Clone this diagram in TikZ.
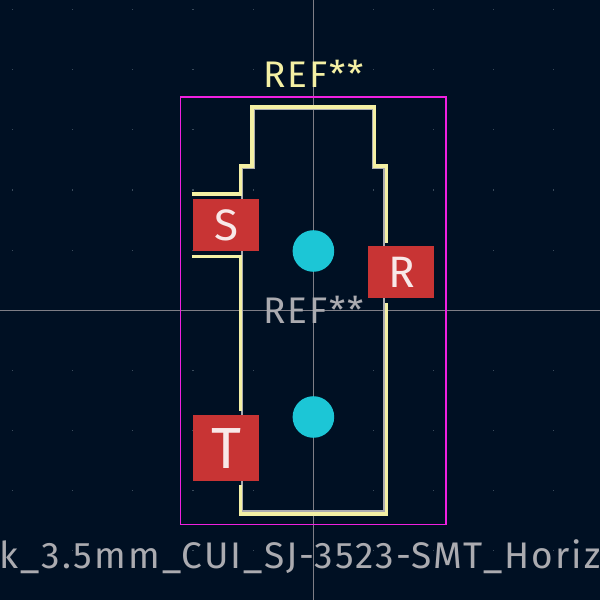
\documentclass[tikz,border=0pt]{standalone}
\usepackage{fontspec}
\setmainfont[LetterSpace=5]{Fira Sans}
\newfontfamily\widefont[LetterSpace=5.6]{Fira Sans}
\definecolor{bgc}{HTML}{001023}
\definecolor{crossc}{HTML}{7E7E86}
\definecolor{griddot}{HTML}{3A4A5A}
\definecolor{courtc}{HTML}{F020E0}
\definecolor{silkc}{HTML}{F4F0A4}
\definecolor{fabc}{HTML}{ABABB0}
\definecolor{padc}{HTML}{C83434}
\definecolor{holec}{HTML}{1CC6D6}
\definecolor{padtext}{HTML}{F8E8E8}
\tikzset{
  x=1pt,y=-1pt,
  silk/.style={draw=silkc,line width=3.3pt,line join=miter},
  fab/.style={draw=fabc,line width=2.4pt},
  court/.style={draw=courtc,line width=1.5pt},
  crossline/.style={draw=crossc,line width=1.1pt},
  pad/.style={fill=padc,draw=none,inner sep=0pt,text=padtext,font=\fontsize{44}{44}\selectfont},
  hole/.style={circle,fill=holec,draw=none,minimum size=41.6pt,inner sep=0pt},
  lbl/.style={inner sep=0pt,anchor=base,font=\fontsize{37}{37}\selectfont}
}
\begin{document}
\begin{tikzpicture}
\useasboundingbox (0,0) rectangle (600,600);
\clip (0,0) rectangle (600,600);
\fill[bgc] (0,0) rectangle (600,600);
\foreach \i in {0,...,9} \foreach \j in {0,...,9}
  \fill[griddot] ({12.5+60.15*\i-.6},{9.5+60.15*\j-.6}) rectangle +(1.2,1.2);
\coordinate (vtop) at (313.5,0);
\coordinate (vbot) at (313.5,600);
\coordinate (hl) at (0,310.5);
\coordinate (hr) at (600,310.5);
\draw[crossline] (vtop) -- (vbot);
\draw[crossline] (hl) -- (hr);
\draw[court] (180.7,97) rectangle (446,524.3);
\draw[fab] (242,300) -- (242,168) -- (253.5,168) -- (253.5,109) -- (373,109) -- (373,168) -- (384,168) -- (384,511.5) -- (242,511.5) -- (242,300);
\draw[silk] (191.7,194) -- (240.3,194) -- (240.3,166) -- (252,166) -- (252,107) -- (374.5,107) -- (374.5,166) -- (386.7,166) -- (386.7,242.7);
\draw[silk] (191.7,256.3) -- (240.3,256.3) -- (240.3,410.7);
\draw[silk] (240.3,485) -- (240.3,514) -- (386.7,514) -- (386.7,302.7);
\node[pad,minimum width=66.3pt,minimum height=52pt] (padS) at (225.9,225) {\kern2pt S};
\node[pad,minimum width=66pt,minimum height=52pt] (padR) at (401,272.3) {\kern2pt R};
\node[pad,minimum width=66.3pt,minimum height=66.3pt,font=\fontsize{58}{58}\selectfont] (padT) at (225.9,448.2) {\kern2pt T};
\node[hole] (holeA) at (313.4,251) {};
\node[hole] (holeB) at (313.4,417) {};
\node[lbl,text=silkc] (refTop) at (313.5,87.5) {REF**};
\node[lbl,text=fabc] (refMid) at (313.5,323) {REF**};
\node[lbl,text=fabc,font=\fontsize{37}{37}\selectfont\widefont] (value) at (300,568) {k\_3.5mm\_CUI\_SJ-3523-SMT\_Horiz};
\end{tikzpicture}
\end{document}
